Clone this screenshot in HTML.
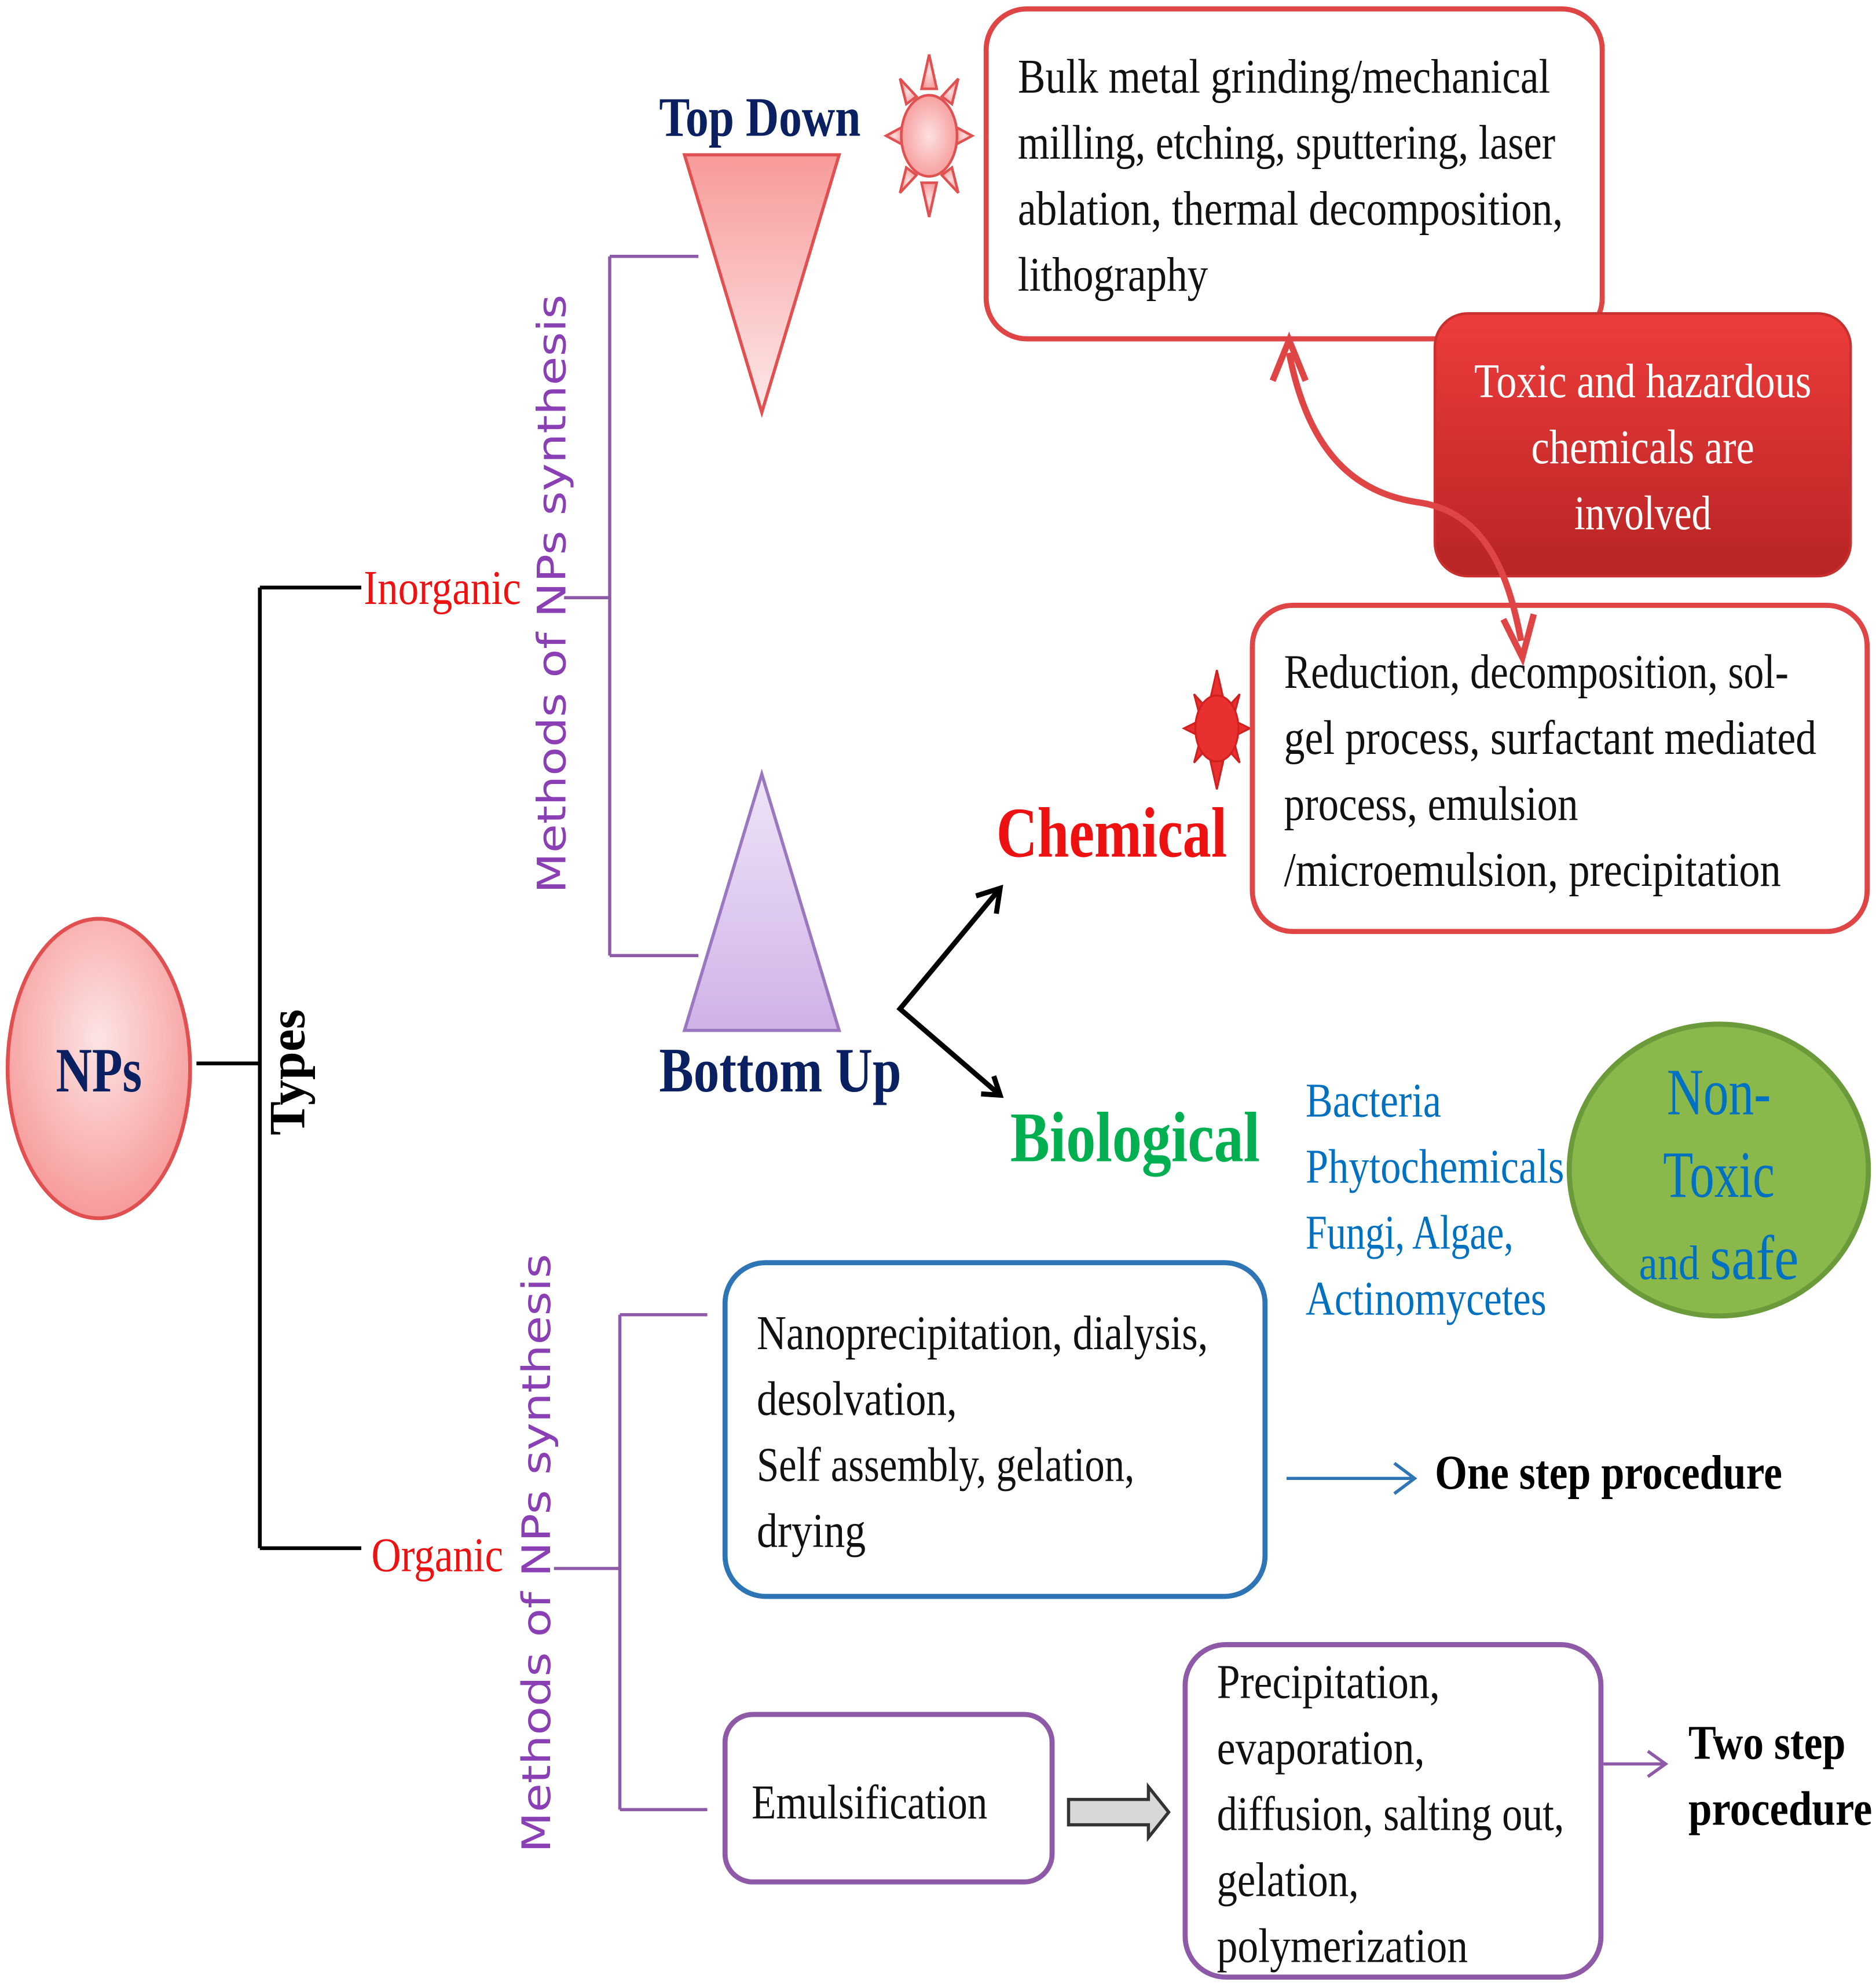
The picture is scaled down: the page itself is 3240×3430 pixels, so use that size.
<!DOCTYPE html>
<html><head><meta charset="utf-8"><style>html,body{margin:0;padding:0;background:#fff}svg{display:block}</style></head>
<body>
<svg width="3240" height="3430" viewBox="0 0 1480 1565" preserveAspectRatio="none" xmlns="http://www.w3.org/2000/svg" font-family="Liberation Serif, serif">
<defs>
<radialGradient id="gnp" cx="50%" cy="40%" r="60%"><stop offset="0" stop-color="#fde4e4"/><stop offset="1" stop-color="#f79a9a"/></radialGradient>
<linearGradient id="gtd" x1="0" y1="0" x2="0" y2="1"><stop offset="0" stop-color="#f89a9a"/><stop offset="1" stop-color="#fde8e8"/></linearGradient>
<linearGradient id="gbu" x1="0" y1="0" x2="0" y2="1"><stop offset="0" stop-color="#efe4f7"/><stop offset="1" stop-color="#cfb2e8"/></linearGradient>
<linearGradient id="gred" x1="0" y1="0" x2="0" y2="1"><stop offset="0" stop-color="#ee3c3c"/><stop offset="1" stop-color="#b82424"/></linearGradient>
<radialGradient id="gsun" cx="50%" cy="50%" r="50%"><stop offset="0" stop-color="#fde0e0"/><stop offset="1" stop-color="#f7a0a0"/></radialGradient>
</defs>
<!-- NPs -->
<ellipse cx="78" cy="842" rx="72" ry="118" fill="url(#gnp)" stroke="#e05050" stroke-width="3"/>
<text x="78" y="860" text-anchor="middle" font-size="50" font-weight="bold" fill="#0a2060" textLength="68" lengthAdjust="spacingAndGlyphs">NPs</text>
<g stroke="#000" stroke-width="3" fill="none">
<path d="M155 838H205M205 463V1220M205 463H285M205 1220H285"/>
</g>
<text transform="translate(240,845) rotate(-90)" text-anchor="middle" font-size="40" font-weight="bold" fill="#000">Types</text>
<text x="287" y="476" font-size="38" fill="#ee1111" textLength="124" lengthAdjust="spacingAndGlyphs">Inorganic</text>
<text x="293" y="1238" font-size="38" fill="#ee1111" textLength="104" lengthAdjust="spacingAndGlyphs">Organic</text>
<g font-family="DejaVu Sans, sans-serif" font-size="31" fill="#8a3fb5" text-anchor="middle">
<text transform="translate(446,468) rotate(-90)" textLength="472" lengthAdjust="spacingAndGlyphs">Methods of NPs synthesis</text>
<text transform="translate(434,1224) rotate(-90)" textLength="472" lengthAdjust="spacingAndGlyphs">Methods of NPs synthesis</text>
</g>
<g stroke="#8e5aa8" stroke-width="2.5" fill="none">
<path d="M445 471H481M481 202V753M481 202H551M481 753H551"/>
<path d="M437 1236H489M489 1036V1426M489 1036H558M489 1426H558"/>
</g>
<!-- triangles -->
<polygon points="540,122 662,122 601,325" fill="url(#gtd)" stroke="#e05050" stroke-width="2.5"/>
<polygon points="601,610 540,812 662,812" fill="url(#gbu)" stroke="#9a78c0" stroke-width="2.5"/>
<text x="520" y="107" font-size="44" font-weight="bold" fill="#0a2060" textLength="159" lengthAdjust="spacingAndGlyphs">Top Down</text>
<text x="520" y="860" font-size="50" font-weight="bold" fill="#0a2060" textLength="191" lengthAdjust="spacingAndGlyphs">Bottom Up</text>
<!-- sun top -->
<g fill="url(#gsun)" stroke="#e05050" stroke-width="2">
<polygon points="733,43 739,70 727,70"/><polygon points="733,171 739,144 727,144"/>
<polygon points="699,107 712,100 712,114"/><polygon points="767,107 754,100 754,114"/>
<polygon points="710,62 723,76 715,82"/><polygon points="756,62 743,76 751,82"/>
<polygon points="710,152 723,138 715,132"/><polygon points="756,152 743,138 751,132"/>
<ellipse cx="733" cy="107" rx="22" ry="32"/>
</g>
<!-- sun chem -->
<g fill="#e83030" stroke="#d02020" stroke-width="1.5">
<polygon points="960,528 965,550 955,550"/><polygon points="960,622 965,600 955,600"/>
<polygon points="934,574 946,568 946,580"/><polygon points="986,574 974,568 974,580"/>
<polygon points="942,547 952,558 946,562"/><polygon points="978,547 968,558 974,562"/>
<polygon points="942,601 952,590 946,586"/><polygon points="978,601 968,590 974,586"/>
<ellipse cx="960" cy="574" rx="17" ry="26"/>
</g>
<!-- top box -->
<rect x="778" y="7" width="486" height="260" rx="32" fill="#fff" stroke="#e04545" stroke-width="4"/>
<g font-size="38" fill="#111">
<text x="803" y="73" textLength="420" lengthAdjust="spacingAndGlyphs">Bulk metal grinding/mechanical</text>
<text x="803" y="125" textLength="424" lengthAdjust="spacingAndGlyphs">milling, etching, sputtering, laser</text>
<text x="803" y="177" textLength="430" lengthAdjust="spacingAndGlyphs">ablation, thermal decomposition,</text>
<text x="803" y="229" textLength="150" lengthAdjust="spacingAndGlyphs">lithography</text>
</g>
<!-- red box -->
<rect x="1132" y="247" width="328" height="207" rx="26" fill="url(#gred)" stroke="#c83030" stroke-width="2"/>
<g font-size="38" fill="#fff" text-anchor="middle">
<text x="1296" y="313" textLength="266" lengthAdjust="spacingAndGlyphs">Toxic and hazardous</text>
<text x="1296" y="365" textLength="176" lengthAdjust="spacingAndGlyphs">chemicals are</text>
<text x="1296" y="417" textLength="108" lengthAdjust="spacingAndGlyphs">involved</text>
</g>
<!-- chem box -->
<rect x="988" y="477" width="485" height="257" rx="32" fill="#fff" stroke="#e04545" stroke-width="4"/>
<g font-size="38" fill="#111">
<text x="1013" y="542" textLength="398" lengthAdjust="spacingAndGlyphs">Reduction, decomposition, sol-</text>
<text x="1013" y="594" textLength="420" lengthAdjust="spacingAndGlyphs">gel process, surfactant mediated</text>
<text x="1013" y="646" textLength="232" lengthAdjust="spacingAndGlyphs">process, emulsion</text>
<text x="1013" y="698" textLength="392" lengthAdjust="spacingAndGlyphs">/microemulsion, precipitation</text>
</g>
<!-- curved arrow -->
<path d="M1017 278 C1030 345 1060 388 1120 396 C1172 404 1190 452 1200 505" fill="none" stroke="#e04545" stroke-width="5"/>
<path d="M1004 300 L1017 268 L1030 300" fill="none" stroke="#e04545" stroke-width="5"/>
<path d="M1186 488 L1201 518 L1210 484" fill="none" stroke="#e04545" stroke-width="5"/>
<text x="786" y="675" font-size="56" font-weight="bold" fill="#ee1111" textLength="182" lengthAdjust="spacingAndGlyphs">Chemical</text>
<!-- black arrows -->
<g stroke="#000" stroke-width="4" fill="none">
<path d="M789 700 L710 795 L789 863"/>
<path d="M770 706 L789 700 L786 720"/>
<path d="M774 862 L789 863 L784 848"/>
</g>
<text x="797" y="915" font-size="56" font-weight="bold" fill="#00b050" textLength="197" lengthAdjust="spacingAndGlyphs">Biological</text>
<g font-size="38" fill="#0070c0">
<text x="1030" y="880" textLength="107" lengthAdjust="spacingAndGlyphs">Bacteria</text>
<text x="1030" y="932" textLength="204" lengthAdjust="spacingAndGlyphs">Phytochemicals</text>
<text x="1030" y="984" textLength="164" lengthAdjust="spacingAndGlyphs">Fungi, Algae,</text>
<text x="1030" y="1036" textLength="190" lengthAdjust="spacingAndGlyphs">Actinomycetes</text>
</g>
<ellipse cx="1356" cy="922" rx="118" ry="115" fill="#8ab84a" stroke="#6a9a3a" stroke-width="4"/>
<g fill="#0070c0" text-anchor="middle">
<text x="1356" y="878" font-size="52" textLength="82" lengthAdjust="spacingAndGlyphs">Non-</text>
<text x="1356" y="943" font-size="52" textLength="88" lengthAdjust="spacingAndGlyphs">Toxic</text>
<text x="1356" y="1008" font-size="38" textLength="126" lengthAdjust="spacingAndGlyphs">and <tspan font-size="50">safe</tspan></text>
</g>
<!-- blue box -->
<rect x="572" y="995" width="426" height="263" rx="32" fill="#fff" stroke="#2e75b6" stroke-width="4"/>
<g font-size="38" fill="#111">
<text x="597" y="1063" textLength="356" lengthAdjust="spacingAndGlyphs">Nanoprecipitation, dialysis,</text>
<text x="597" y="1115" textLength="158" lengthAdjust="spacingAndGlyphs">desolvation,</text>
<text x="597" y="1167" textLength="298" lengthAdjust="spacingAndGlyphs">Self assembly, gelation,</text>
<text x="597" y="1219" textLength="86" lengthAdjust="spacingAndGlyphs">drying</text>
</g>
<path d="M1015 1165H1115M1100 1153L1116 1165L1100 1177" fill="none" stroke="#2e75b6" stroke-width="2.5"/>
<text x="1132" y="1173" font-size="38" font-weight="bold" fill="#000" textLength="274" lengthAdjust="spacingAndGlyphs">One step procedure</text>
<!-- emulsification -->
<rect x="572" y="1351" width="258" height="132" rx="22" fill="#fff" stroke="#8e5aa8" stroke-width="4"/>
<text x="593" y="1433" font-size="38" fill="#111" textLength="186" lengthAdjust="spacingAndGlyphs">Emulsification</text>
<path d="M843 1418H906V1408L922 1428L906 1448V1438H843Z" fill="#d8d8d8" stroke="#333" stroke-width="2.5"/>
<rect x="935" y="1296" width="328" height="262" rx="32" fill="#fff" stroke="#8e5aa8" stroke-width="4"/>
<g font-size="38" fill="#111">
<text x="960" y="1338" textLength="176" lengthAdjust="spacingAndGlyphs">Precipitation,</text>
<text x="960" y="1390" textLength="164" lengthAdjust="spacingAndGlyphs">evaporation,</text>
<text x="960" y="1442" textLength="274" lengthAdjust="spacingAndGlyphs">diffusion, salting out,</text>
<text x="960" y="1494" textLength="112" lengthAdjust="spacingAndGlyphs">gelation,</text>
<text x="960" y="1546" textLength="198" lengthAdjust="spacingAndGlyphs">polymerization</text>
</g>
<path d="M1265 1390H1313M1300 1380L1314 1390L1300 1400" fill="none" stroke="#8e5aa8" stroke-width="2.5"/>
<g font-size="38" font-weight="bold" fill="#000">
<text x="1332" y="1386" textLength="124" lengthAdjust="spacingAndGlyphs">Two step</text>
<text x="1332" y="1438" textLength="145" lengthAdjust="spacingAndGlyphs">procedure</text>
</g>
</svg>
</body></html>
